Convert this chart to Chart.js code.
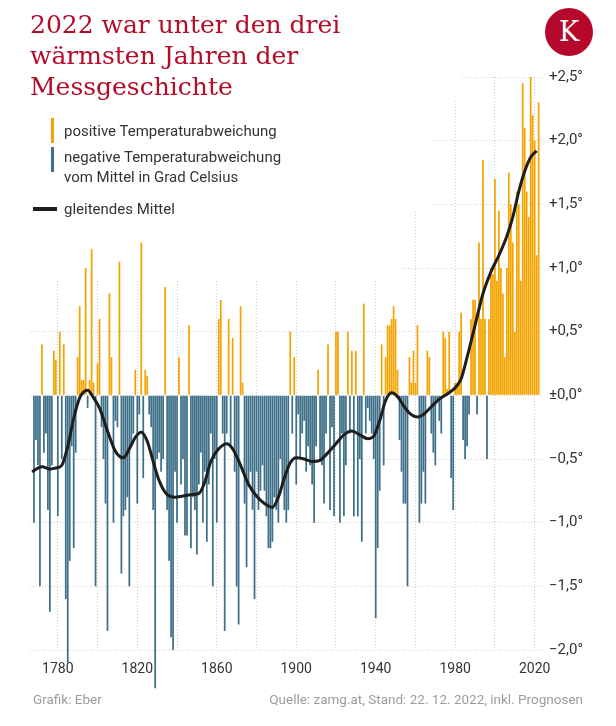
<!DOCTYPE html>
<html lang="de">
<head>
<meta charset="utf-8">
<script src="https://cdn.jsdelivr.net/npm/chart.js@4.4.1/dist/chart.umd.min.js"></script>
<style>
  body { margin: 0; background: #fff; width: 616px; height: 726px; position: relative; overflow: hidden; font-family: Roboto, sans-serif; }
  #chart { position: absolute; left: 0; top: 0; }
  .title { position: absolute; left: 30px; top: 9px; margin: 0; font-family: "DejaVu Serif", serif; font-weight: normal; font-size: 25px; line-height: 31px; color: #b30d2a; }
  .logo { position: absolute; left: 545px; top: 8px; width: 48px; height: 48px; border-radius: 50%; background: #b5082a; color: #fff; font-family: "DejaVu Serif", serif; font-size: 27px; line-height: 48px; text-align: center; }
  .leg { position: absolute; left: 64px; font-size: 15px; line-height: 20px; color: #333; }
  .mark { position: absolute; }
  .foot { position: absolute; top: 691px; font-size: 13.5px; color: #9c9c9c; }
</style>
</head>
<body>
<canvas id="chart" width="616" height="726"></canvas>
<h1 class="title">2022 war unter den drei<br>wärmsten Jahren der<br>Messgeschichte</h1>
<div class="logo">K</div>

<div class="mark" style="left:51px; top:118px; width:3px; height:25px; background:#f4a400;"></div>
<div class="leg" style="top:121px;">positive Temperaturabweichung</div>
<div class="mark" style="left:51px; top:147px; width:3px; height:25px; background:#3e7089;"></div>
<div class="leg" style="top:147px;">negative Temperaturabweichung<br>vom Mittel in Grad Celsius</div>
<div class="mark" style="left:33px; top:207px; width:24px; height:4px; background:#1e1e1e;"></div>
<div class="leg" style="top:199px;">gleitendes Mittel</div>

<div class="foot" style="left:33px;">Grafik: Eber</div>
<div class="foot" style="right:33px;">Quelle: zamg.at, Stand: 22. 12. 2022, inkl. Prognosen</div>

<script>
// Jahresabweichung vom Mittel (°C), ab 1768
const firstYear = 1768;
const anomalies = [
  -1.0, -0.35, -0.55, -1.5, 0.4, -0.45, -0.3, -0.9, -1.7, -0.55, 0.35, 0.28,
  -0.95, 0.5, -0.5, 0.4, -1.6, -2.1, -1.3, -0.4, -1.2, -0.45,      // 1780
  0.3, 0.7, 0.12, 0.12, 1.0, -0.1, 0.12, 1.15, 0.1, -1.5,          // 1790
  0.25, 0.6, -0.25, -0.5, -0.85, -1.85, 0.8, 0.3, -1.0, -0.2,      // 1800
  -0.25, 1.05, -1.4, -0.95, -0.9, -0.8, -1.5, -0.4, -0.3, 0.2,     // 1810
  -0.85, -0.15, 1.2, -0.65, 0.2, 0.15, -0.15, -0.25, -0.9, -2.3,   // 1820
  -0.5, -0.45, -0.6, -0.5, 0.85, -0.9, -1.3, -1.9, -2.0, -0.6,     // 1830
  -1.0, 0.3, -0.7, -0.5, -1.1, -1.1, 0.55, -1.2, -0.8, -0.9,       // 1840
  -1.25, -0.7, -0.45, -1.0, -0.6, -1.15, -0.7, -0.3, -1.5, -0.5,   // 1850
  -1.0, 0.6, 0.75, -0.3, -1.85, -0.3, 0.6, -0.4, 0.45, -0.6,       // 1860
  -1.5, -1.8, 0.7, 0.1, -0.85, -1.35, -0.7, -0.6, -0.9, -1.6,      // 1870
  -0.6, -0.9, -0.75, -0.55, -0.75, -0.95, -1.2, -1.2, -1.15, -0.8, // 1880
  -0.9, -1.0, -0.5, -0.7, -0.9, -1.0, -0.9, 0.5, -0.3, 0.3,        // 1890
  -0.7, -0.15, -0.5, -0.3, -0.2, -0.6, -0.4, -0.55, -0.7, -1.0,    // 1900
  -0.4, 0.2, -0.5, -0.55, -0.85, -0.3, 0.4, -0.9, -0.25, -0.95,    // 1910
  0.5, 0.5, -1.0, -0.3, -0.95, -0.55, 0.5, -0.3, 0.35, -0.95,      // 1920
  0.35, -0.95, -0.5, -1.15, 0.72, -0.3, -0.1, -0.2, -0.3, -0.5,    // 1930
  -1.75, -1.2, -0.75, 0.4, -0.55, 0.3, 0.55, 0.55, 0.6, 0.7,       // 1940
  0.6, 0.2, -0.35, -0.6, -0.85, -0.85, -1.5, 0.3, 0.1, 0.35,       // 1950
  0.1, 0.55, -1.0, -0.85, -0.6, -0.85, 0.35, 0.3, -0.3, -0.45,     // 1960
  -0.55, -0.05, -0.2, -0.3, 0.5, 0.45, 0.05, 0.5, -0.65, -0.9,     // 1970
  0.1, 0.1, 0.5, 0.65, -0.35, -0.5, -0.4, -0.15, 0.6, 0.75,        // 1980
  0.75, -0.15, 1.2, 0.6, 1.85, 0.6, -0.5, 0.6, 1.0, 0.95,          // 1990
  1.7, 0.9, 1.45, 1.0, 0.8, 0.3, 1.0, 1.75, 1.5, 1.2,              // 2000
  0.5, 1.6, 1.5, 0.9, 2.45, 2.1, 1.6, 1.4, 2.5, 2.2,               // 2010
  2.0, 1.1, 2.3                                                    // 2020
];

const meanYears = [1767, 1772, 1776, 1779, 1782, 1785, 1788, 1791, 1795, 1798, 1801, 1805, 1809, 1813, 1816,
  1819, 1822, 1825, 1828, 1831, 1835, 1839, 1843, 1847, 1851, 1854, 1857, 1861, 1865, 1868, 1872, 1876, 1880,
  1884, 1888, 1891, 1894, 1897, 1900, 1904, 1908, 1912, 1916, 1920, 1924, 1928, 1932, 1936, 1939, 1942, 1945,
  1948, 1951, 1954, 1957, 1961, 1964, 1968, 1972, 1976, 1980, 1983, 1986, 1990, 1994, 1998, 2002, 2006, 2009,
  2012, 2015, 2018, 2021];
const meanValues = [-0.60, -0.56, -0.58, -0.57, -0.55, -0.40, -0.18, -0.02, 0.04, -0.02, -0.10, -0.28, -0.44, -0.49, -0.42,
  -0.33, -0.29, -0.36, -0.52, -0.67, -0.78, -0.80, -0.79, -0.78, -0.77, -0.68, -0.52, -0.42, -0.38, -0.42, -0.55, -0.70, -0.79,
  -0.85, -0.88, -0.80, -0.65, -0.53, -0.49, -0.50, -0.52, -0.51, -0.45, -0.38, -0.31, -0.28, -0.31, -0.34, -0.32, -0.20, -0.04,
  0.02, -0.01, -0.08, -0.14, -0.17, -0.15, -0.09, -0.03, 0.01, 0.06, 0.13, 0.30, 0.55, 0.80, 0.97, 1.10, 1.25, 1.40,
  1.60, 1.76, 1.87, 1.92];

const yearTicks = [1780, 1800, 1820, 1840, 1860, 1880, 1900, 1920, 1940, 1960, 1980, 2000, 2020];

const orange = "#f4a400";
const teal = "#3e7089";

const barData = anomalies.map((v, i) => ({ x: firstYear + i, y: v }));
const lineData = meanYears.map((y, i) => ({ x: y, y: meanValues[i] }));

function fmtDeg(v) {
  const s = Math.abs(v).toFixed(1).replace(".", ",") + "°";
  if (Math.abs(v) < 1e-9) return "±" + s;
  return (v > 0 ? "+" : "\u2212") + s;
}

// white area behind the legend hides the grid there
const legendMask = {
  id: "legendMask",
  beforeDatasetsDraw(chart) {
    const c = chart.ctx;
    c.save();
    c.fillStyle = "#fff";
    c.beginPath();
    c.moveTo(0, 0);
    c.lineTo(462, 0);
    c.lineTo(462, 100);
    c.lineTo(432, 100);
    c.lineTo(432, 212);
    c.lineTo(400, 212);
    c.lineTo(400, 280);
    c.lineTo(0, 280);
    c.closePath();
    c.fill();
    c.restore();
  }
};

const ctx = document.getElementById("chart").getContext("2d");
new Chart(ctx, {
  type: "bar",
  data: {
    datasets: [
      {
        type: "line",
        data: lineData,
        borderColor: "#1e1e1e",
        borderWidth: 3,
        pointRadius: 0,
        cubicInterpolationMode: "monotone",
        order: 0
      },
      {
        data: barData,
        backgroundColor: c => (c.raw && c.raw.y >= 0 ? orange : teal),
        barPercentage: 1,
        categoryPercentage: 0.88,
        clip: false,
        order: 1
      }
    ]
  },
  options: {
    responsive: false,
    devicePixelRatio: 1,
    animation: false,
    layout: { padding: { left: 30, right: 0, top: 77, bottom: 36 } },
    plugins: { legend: { display: false }, tooltip: { enabled: false } },
    scales: {
      x: {
        type: "linear",
        min: 1766,
        max: 2023.7,
        offset: false,
        afterFit: s => { s.height = 40; },
        afterBuildTicks: s => { s.ticks = yearTicks.map(v => ({ value: v })); },
        grid: { color: "#cfcfcf", drawTicks: false, offset: false },
        border: { display: false, dash: [1, 2] },
        ticks: {
          padding: 11,
          maxRotation: 0,
          autoSkip: false,
          color: "#333",
          font: { family: "Roboto", size: 14 },
          callback: v => ((v - 1780) % 40 === 0 ? String(v) : "")
        }
      },
      y: {
        position: "right",
        min: -2,
        max: 2.5,
        afterFit: s => { s.width = 74; },
        grid: { color: "#cfcfcf", drawTicks: false },
        border: { display: false, dash: [1, 2] },
        ticks: {
          stepSize: 0.5,
          padding: 7,
          color: "#333",
          font: { family: "Roboto", size: 15 },
          callback: v => fmtDeg(v)
        }
      }
    }
  },
  plugins: [legendMask]
});
</script>
</body>
</html>
